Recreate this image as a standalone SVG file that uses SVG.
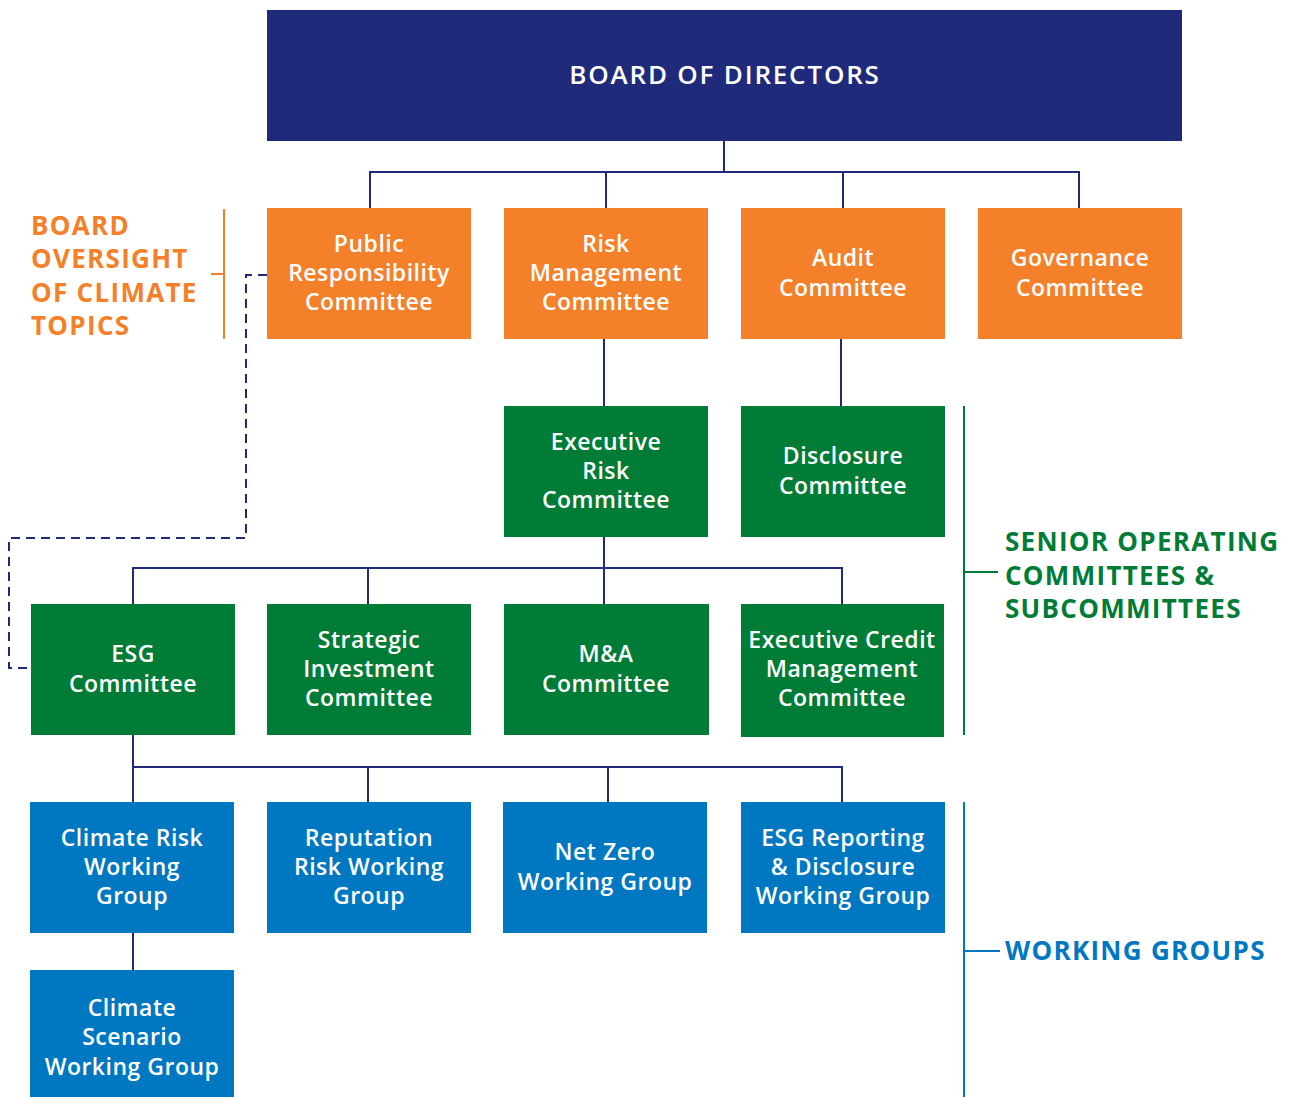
<svg xmlns="http://www.w3.org/2000/svg" width="1291" height="1097" viewBox="0 0 1291 1097">
<style>
.nt{font-family:"Open Sans","Liberation Sans",sans-serif;font-weight:600;font-size:23px;letter-spacing:0.5px;fill:#fff;text-anchor:middle}
.lb{font-family:"Open Sans","Liberation Sans",sans-serif;font-weight:700;font-size:26px;letter-spacing:1.3px}
.c{fill:none;stroke:#1f2a7a;stroke-width:2}
.orange{fill:#f5802a}.green{fill:#007c37}.blue{fill:#0077c1}.navy{fill:#1f2a7a}
</style>
<rect width="1291" height="1097" fill="#fff"/>
<g id="connectors">
<path class="c" d="M724 141V172M370 208V172H1079V208M606 172V208M843 172V208"/>
<path class="c" d="M604 339V406M841 339V406"/>
<path class="c" d="M604 537V568M133 604V568H842V604M368 568V604M604 568V604"/>
<path class="c" d="M133 735V767H842V802M133 767V802M368 767V802M608 767V802"/>
<path class="c" d="M133 933V970"/>
<path class="c" stroke-dasharray="9,6" d="M267 275H246V538H9V668H31"/>
</g>
<g id="brackets">
<path fill="none" stroke="#f5802a" stroke-width="2" d="M224 209V339M211 274H224"/>
<path fill="none" stroke="#007c37" stroke-width="2" d="M964 406V735M964 572H998"/>
<path fill="none" stroke="#0077c1" stroke-width="2" d="M964 802V1097M964 951H1000"/>
</g>
<g id="label-board-oversight" class="lb" fill="#f5802a">
<text x="31" y="235">BOARD</text><text x="31" y="268">OVERSIGHT</text><text x="31" y="302">OF CLIMATE</text><text x="31" y="335">TOPICS</text>
</g>
<g id="label-senior" class="lb" fill="#007c37">
<text x="1005" y="551">SENIOR OPERATING</text><text x="1005" y="585">COMMITTEES &amp;</text><text x="1005" y="618">SUBCOMMITTEES</text>
</g>
<g id="label-working" class="lb" fill="#0077c1"><text x="1005" y="960">WORKING GROUPS</text></g>
<g id="board"><rect class="navy" x="267" y="10" width="915" height="131"/><text class="nt" x="725" y="84" style="font-size:26px;letter-spacing:1.8px">BOARD OF DIRECTORS</text></g>
<g id="public-responsibility"><rect class="orange" x="267" y="208" width="204" height="131"/><text class="nt" x="369" y="252">Public</text><text class="nt" x="369" y="281">Responsibility</text><text class="nt" x="369" y="310">Committee</text></g>
<g id="risk-management"><rect class="orange" x="504" y="208" width="204" height="131"/><text class="nt" x="606" y="252">Risk</text><text class="nt" x="606" y="281">Management</text><text class="nt" x="606" y="310">Committee</text></g>
<g id="audit"><rect class="orange" x="741" y="208" width="204" height="131"/><text class="nt" x="843" y="266">Audit</text><text class="nt" x="843" y="296">Committee</text></g>
<g id="governance"><rect class="orange" x="978" y="208" width="204" height="131"/><text class="nt" x="1080" y="266">Governance</text><text class="nt" x="1080" y="296">Committee</text></g>
<g id="executive-risk"><rect class="green" x="504" y="406" width="204" height="131"/><text class="nt" x="606" y="450">Executive</text><text class="nt" x="606" y="479">Risk</text><text class="nt" x="606" y="508">Committee</text></g>
<g id="disclosure"><rect class="green" x="741" y="406" width="204" height="131"/><text class="nt" x="843" y="464">Disclosure</text><text class="nt" x="843" y="494">Committee</text></g>
<g id="esg"><rect class="green" x="31" y="604" width="204" height="131"/><text class="nt" x="133" y="662">ESG</text><text class="nt" x="133" y="692">Committee</text></g>
<g id="strategic-investment"><rect class="green" x="267" y="604" width="204" height="131"/><text class="nt" x="369" y="648">Strategic</text><text class="nt" x="369" y="677">Investment</text><text class="nt" x="369" y="706">Committee</text></g>
<g id="ma"><rect class="green" x="504" y="604" width="205" height="131"/><text class="nt" x="606" y="662">M&amp;A</text><text class="nt" x="606" y="692">Committee</text></g>
<g id="executive-credit"><rect class="green" x="741" y="604" width="203" height="133"/><text class="nt" x="842" y="648">Executive Credit</text><text class="nt" x="842" y="677">Management</text><text class="nt" x="842" y="706">Committee</text></g>
<g id="climate-risk-wg"><rect class="blue" x="30" y="802" width="204" height="131"/><text class="nt" x="132" y="846">Climate Risk</text><text class="nt" x="132" y="875">Working</text><text class="nt" x="132" y="904">Group</text></g>
<g id="reputation-risk-wg"><rect class="blue" x="267" y="802" width="204" height="131"/><text class="nt" x="369" y="846">Reputation</text><text class="nt" x="369" y="875">Risk Working</text><text class="nt" x="369" y="904">Group</text></g>
<g id="net-zero-wg"><rect class="blue" x="503" y="802" width="204" height="131"/><text class="nt" x="605" y="860">Net Zero</text><text class="nt" x="605" y="890">Working Group</text></g>
<g id="esg-reporting-wg"><rect class="blue" x="741" y="802" width="204" height="131"/><text class="nt" x="843" y="846">ESG Reporting</text><text class="nt" x="843" y="875">&amp; Disclosure</text><text class="nt" x="843" y="904">Working Group</text></g>
<g id="climate-scenario-wg"><rect class="blue" x="30" y="970" width="204" height="127"/><text class="nt" x="132" y="1016">Climate</text><text class="nt" x="132" y="1045">Scenario</text><text class="nt" x="132" y="1075">Working Group</text></g>
</svg>
